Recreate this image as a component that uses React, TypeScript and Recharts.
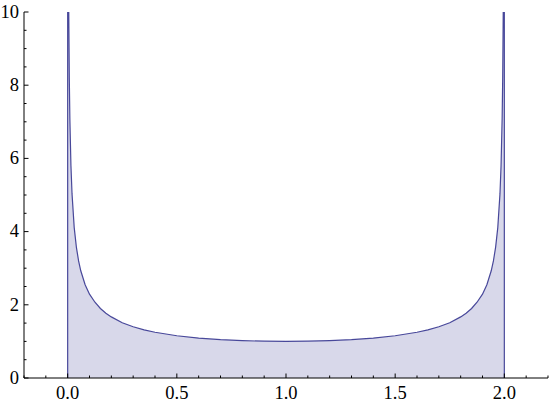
import { AreaChart, Area, XAxis, YAxis } from "recharts"

// curve (both ends run off the top)
const xValues = [
  0, 0, 0.005, 0.0075, 0.01, 0.015, 0.02, 0.03, 0.04, 0.05, 0.06, 0.08, 0.1, 0.125, 0.15,
  0.175, 0.2, 0.25, 0.3, 0.35, 0.4, 0.5, 0.6, 0.7, 0.8, 0.9, 1.0, 1.1, 1.2, 1.3, 1.4,
  1.5, 1.6, 1.65, 1.7, 1.75, 1.8, 1.825, 1.85, 1.875, 1.9, 1.92, 1.94, 1.95, 1.96, 1.97,
  1.98, 1.985, 1.99, 1.9925, 1.995, 2, 2,
]
const yValues = [
  0, 12, 10.0, 8.18, 7.09, 5.8, 5.03, 4.11, 3.57, 3.2, 2.93, 2.55, 2.29, 2.07, 1.9,
  1.77, 1.67, 1.51, 1.4, 1.316, 1.25, 1.155, 1.091, 1.048, 1.021, 1.005, 1.0, 1.005, 1.021, 1.048, 1.091,
  1.155, 1.25, 1.316, 1.4, 1.51, 1.67, 1.77, 1.9, 2.07, 2.29, 2.55, 2.93, 3.2, 3.57, 4.11,
  5.03, 5.8, 7.09, 8.18, 10.0, 12, 0,
]

const xTicks = [
  -0.2, -0.1, 0, 0.1, 0.2, 0.3, 0.4, 0.5, 0.6, 0.7, 0.8, 0.9, 1, 1.1, 1.2, 1.3, 1.4, 1.5,
  1.6, 1.7, 1.8, 1.9, 2, 2.1, 2.2,
]
const xLabels = [0, 0.5, 1, 1.5, 2]
const yTicks = [
  0, 0.5, 1, 1.5, 2, 2.5, 3, 3.5, 4, 4.5, 5, 5.5, 6, 6.5, 7, 7.5, 8, 8.5, 9, 9.5, 10,
]
const yLabels = [0, 2, 4, 6, 8, 10]

const data = xValues.map((x, i) => ({ x, y: yValues[i] }))

const FONT = "Liberation Serif"
const FONT_SIZE = 18.5
const GAP = 6
const MAJOR = 4.5
const MINOR = 2.5

const isMajor = (v: number, list: number[]) => list.some((m) => Math.abs(m - v) < 1e-6)

function BottomTick(props: any) {
  const { x, y, payload } = props
  const major = isMajor(payload.value, xLabels)
  const axisY = y - GAP
  return (
    <g>
      <line x1={x} x2={x} y1={axisY} y2={axisY - (major ? MAJOR : MINOR)} stroke="#000" />
      {major && (
        <text x={x} y={y} dy={15} textAnchor="middle" fontSize={FONT_SIZE} fontFamily={FONT} fill="#000">
          {payload.value.toFixed(1)}
        </text>
      )}
    </g>
  )
}

function TopTick(props: any) {
  const { x, y, payload } = props
  const major = isMajor(payload.value, xLabels)
  return <line x1={x} x2={x} y1={y} y2={y + (major ? MAJOR : MINOR)} stroke="#000" />
}

function LeftTick(props: any) {
  const { x, y, payload } = props
  const major = isMajor(payload.value, yLabels)
  const axisX = x + GAP
  return (
    <g>
      <line x1={axisX} x2={axisX + (major ? MAJOR : MINOR)} y1={y} y2={y} stroke="#000" />
      {major && (
        <text x={x + 1} y={y} dy={5.8} textAnchor="end" fontSize={FONT_SIZE} fontFamily={FONT} fill="#000">
          {String(payload.value)}
        </text>
      )}
    </g>
  )
}

function RightTick(props: any) {
  const { x, y, payload } = props
  const major = isMajor(payload.value, yLabels)
  return <line x1={x} x2={x - (major ? MAJOR : MINOR)} y1={y} y2={y} stroke="#000" />
}

export default function App() {
  return (
    <div style={{ position: "absolute", left: 0, top: 0, background: "#fff" }}>
      <AreaChart width={550} height={405} data={data} margin={{ top: 12, right: 2, left: 0, bottom: 0 }}>
        <XAxis
          dataKey="x"
          type="number"
          domain={[-0.2, 2.2]}
          ticks={xTicks}
          interval={0}
          height={27}
          tickSize={0}
          tickMargin={GAP}
          tickLine={false}
          tick={BottomTick}
          axisLine={{ stroke: "#000" }}
        />
        <XAxis
          xAxisId="top"
          orientation="top"
          dataKey="x"
          type="number"
          domain={[-0.2, 2.2]}
          ticks={xTicks}
          interval={0}
          height={0}
          tickSize={0}
          tickMargin={0}
          tickLine={false}
          tick={TopTick}
          axisLine={{ stroke: "#000" }}
        />
        <YAxis
          type="number"
          domain={[0, 10]}
          allowDataOverflow
          ticks={yTicks}
          interval={0}
          width={24}
          tickSize={0}
          tickMargin={GAP}
          tickLine={false}
          tick={LeftTick}
          axisLine={{ stroke: "#000" }}
        />
        <YAxis
          yAxisId="right"
          orientation="right"
          type="number"
          domain={[0, 10]}
          allowDataOverflow
          ticks={yTicks}
          interval={0}
          width={0}
          tickSize={0}
          tickMargin={0}
          tickLine={false}
          tick={RightTick}
          axisLine={{ stroke: "#000" }}
        />
        <Area
          type="linear"
          dataKey="y"
          stroke="#48489a"
          strokeWidth={1.2}
          fill="#d8d8ea"
          fillOpacity={1}
          isAnimationActive={false}
        />
      </AreaChart>
    </div>
  )
}
